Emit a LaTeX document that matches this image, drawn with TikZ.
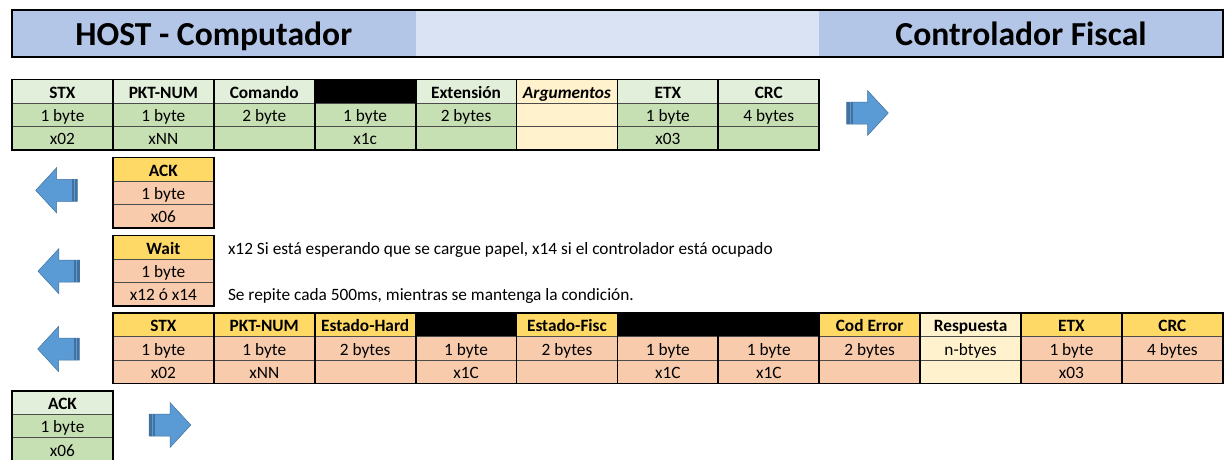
\documentclass[tikz,border=0pt]{standalone}
\usepackage{fontspec}
\setmainfont{Carlito}
\usetikzlibrary{positioning}

\definecolor{titledark}{HTML}{B4C6E7}
\definecolor{titlelight}{HTML}{DAE3F3}
\definecolor{hdrgreen}{HTML}{E2EFDA}
\definecolor{rowgreen}{HTML}{C6E0B4}
\definecolor{hdryellow}{HTML}{FFD966}
\definecolor{roworange}{HTML}{F8CBAD}
\definecolor{argcream}{HTML}{FFF2CC}
\definecolor{arrowblue}{HTML}{5B9BD5}
\definecolor{arrowedge}{HTML}{41719C}

\newcommand{\cellfont}{\fontsize{17.3}{19}\selectfont}

\begin{document}
\begin{tikzpicture}[
  x=1pt, y=-1pt,
  node distance=0pt,
  cell/.style={draw=black!70, line width=0.7pt, minimum width=100.9pt, minimum height=23.4pt,
               inner sep=0pt, outer sep=0pt, font=\cellfont, text height=16.6pt, text depth=3pt},
  hdrg/.style={cell, fill=hdrgreen, font=\cellfont\bfseries},
  rowg/.style={cell, fill=rowgreen},
  hdry/.style={cell, fill=hdryellow, font=\cellfont\bfseries},
  rowo/.style={cell, fill=roworange},
  cream/.style={cell, fill=argcream},
  blackcell/.style={cell, fill=black},
  colframe/.style={draw=black, line width=1.8pt},
  titlecell/.style={minimum width=403.6pt, minimum height=46.7pt, inner sep=0pt, outer sep=0pt,
                    font=\fontsize{33.6}{38}\selectfont\bfseries, text height=30pt, text depth=5pt},
  note/.style={inner sep=0pt, font=\cellfont, text height=16.6pt, text depth=3pt},
  bluearrow/.style={fill=arrowblue, draw=arrowedge, line width=0.5pt},
  bigarrow/.pic={
    \path[bluearrow] (-20.8,-11) -- (0,-11) -- (0,-22.5) -- (20.8,0) -- (0,22.5) -- (0,11)
      -- (-20.8,11) -- cycle;
    \fill[arrowedge] (-20.8,-11) rectangle (-15,11);
    \draw[arrowblue, line width=0.8pt] (-17.6,-11) -- (-17.6,11);
  }
]
\useasboundingbox (0,0) rectangle (1224,459);

% title bar
\node[titlecell, fill=titledark] (host) at (213.8,33.35) {HOST - Computador};
\node[titlecell, fill=titlelight, right=of host] (middle) {};
\node[titlecell, fill=titledark, right=of middle] (fiscal) {Controlador Fiscal};
\draw[colframe, line width=2pt] (host.north west) rectangle (fiscal.south east);

% command sent by the host
\node[hdrg] (c-stx) at (62.45,91.2) {STX};
\node[hdrg, right=of c-stx] (c-pkt) {PKT-NUM};
\node[hdrg, right=of c-pkt] (c-cmd) {Comando};
\node[blackcell, right=of c-cmd] (c-sep) {};
\node[hdrg, right=of c-sep] (c-ext) {Extensión};
\node[cream, font=\cellfont\bfseries\itshape, right=of c-ext] (c-arg) {Argumentos};
\node[hdrg, right=of c-arg] (c-etx) {ETX};
\node[hdrg, right=of c-etx] (c-crc) {CRC};

\node[rowg, below=of c-stx] (c-stx-b) {1 byte};
\node[rowg, below=of c-pkt] (c-pkt-b) {1 byte};
\node[rowg, below=of c-cmd] (c-cmd-b) {2 byte};
\node[rowg, below=of c-sep] (c-sep-b) {1 byte};
\node[rowg, below=of c-ext] (c-ext-b) {2 bytes};
\node[cream, below=of c-arg] (c-arg-b) {};
\node[rowg, below=of c-etx] (c-etx-b) {1 byte};
\node[rowg, below=of c-crc] (c-crc-b) {4 bytes};

\node[rowg, below=of c-stx-b] (c-stx-v) {x02};
\node[rowg, below=of c-pkt-b] (c-pkt-v) {xNN};
\node[rowg, below=of c-cmd-b] (c-cmd-v) {};
\node[rowg, below=of c-sep-b] (c-sep-v) {x1c};
\node[rowg, below=of c-ext-b] (c-ext-v) {};
\node[cream, below=of c-arg-b] (c-arg-v) {};
\node[rowg, below=of c-etx-b] (c-etx-v) {x03};
\node[rowg, below=of c-crc-b] (c-crc-v) {};

\draw[colframe] (c-stx.north west) rectangle (c-stx-v.south east)
  (c-pkt.north west) rectangle (c-pkt-v.south east)
  (c-cmd.north west) rectangle (c-cmd-v.south east)
  (c-sep.north west) rectangle (c-sep-v.south east)
  (c-ext.north west) rectangle (c-ext-v.south east)
  (c-arg.north west) rectangle (c-arg-v.south east)
  (c-etx.north west) rectangle (c-etx-v.south east)
  (c-crc.north west) rectangle (c-crc-v.south east);

% ACK from the controller
\node[hdry] (a-ack) at (163.35,169.2) {ACK};
\node[rowo, below=of a-ack] (a-ack-b) {1 byte};
\node[rowo, below=of a-ack-b] (a-ack-v) {x06};
\draw[colframe] (a-ack.north west) rectangle (a-ack-v.south east);

% Wait from the controller
\node[hdry] (w-wait) at (163.35,247.2) {Wait};
\node[rowo, below=of w-wait] (w-wait-b) {1 byte};
\node[rowo, below=of w-wait-b] (w-wait-v) {x12 ó x14};
\draw[colframe] (w-wait.north west) rectangle (w-wait-v.south east);
\node[note, right=14pt of w-wait] (waitwhy) {x12 Si está esperando que se cargue papel, x14 si el controlador está ocupado};
\node[note, right=14pt of w-wait-v] (waitrep) {Se repite cada 500ms, mientras se mantenga la condición.};

% answer from the controller
\node[hdry] (r-stx) at (163.35,325.0) {STX};
\node[hdry, right=of r-stx] (r-pkt) {PKT-NUM};
\node[hdry, right=of r-pkt] (r-hard) {Estado-Hard};
\node[blackcell, right=of r-hard] (r-sep1) {};
\node[hdry, right=of r-sep1] (r-fisc) {Estado-Fisc};
\node[blackcell, right=of r-fisc] (r-sep2) {};
\node[blackcell, right=of r-sep2] (r-sep3) {};
\node[hdry, right=of r-sep3] (r-err) {Cod Error};
\node[cream, font=\cellfont\bfseries, right=of r-err] (r-resp) {Respuesta};
\node[hdry, right=of r-resp] (r-etx) {ETX};
\node[hdry, right=of r-etx] (r-crc) {CRC};

\node[rowo, below=of r-stx] (r-stx-b) {1 byte};
\node[rowo, below=of r-pkt] (r-pkt-b) {1 byte};
\node[rowo, below=of r-hard] (r-hard-b) {2 bytes};
\node[rowo, below=of r-sep1] (r-sep1-b) {1 byte};
\node[rowo, below=of r-fisc] (r-fisc-b) {2 bytes};
\node[rowo, below=of r-sep2] (r-sep2-b) {1 byte};
\node[rowo, below=of r-sep3] (r-sep3-b) {1 byte};
\node[rowo, below=of r-err] (r-err-b) {2 bytes};
\node[cream, below=of r-resp] (r-resp-b) {n-btyes};
\node[rowo, below=of r-etx] (r-etx-b) {1 byte};
\node[rowo, below=of r-crc] (r-crc-b) {4 bytes};

\node[rowo, below=of r-stx-b] (r-stx-v) {x02};
\node[rowo, below=of r-pkt-b] (r-pkt-v) {xNN};
\node[rowo, below=of r-hard-b] (r-hard-v) {};
\node[rowo, below=of r-sep1-b] (r-sep1-v) {x1C};
\node[rowo, below=of r-fisc-b] (r-fisc-v) {};
\node[rowo, below=of r-sep2-b] (r-sep2-v) {x1C};
\node[rowo, below=of r-sep3-b] (r-sep3-v) {x1C};
\node[rowo, below=of r-err-b] (r-err-v) {};
\node[cream, below=of r-resp-b] (r-resp-v) {};
\node[rowo, below=of r-etx-b] (r-etx-v) {x03};
\node[rowo, below=of r-crc-b] (r-crc-v) {};

\draw[colframe] (r-stx.north west) rectangle (r-stx-v.south east)
  (r-pkt.north west) rectangle (r-pkt-v.south east)
  (r-hard.north west) rectangle (r-hard-v.south east)
  (r-sep1.north west) rectangle (r-sep1-v.south east)
  (r-fisc.north west) rectangle (r-fisc-v.south east)
  (r-sep2.north west) rectangle (r-sep2-v.south east)
  (r-sep3.north west) rectangle (r-sep3-v.south east)
  (r-err.north west) rectangle (r-err-v.south east)
  (r-resp.north west) rectangle (r-resp-v.south east)
  (r-etx.north west) rectangle (r-etx-v.south east)
  (r-crc.north west) rectangle (r-crc-v.south east);

% final ACK from the host
\node[hdrg] (k-ack) at (62.45,402.4) {ACK};
\node[rowg, below=of k-ack] (k-ack-b) {1 byte};
\node[rowg, below=of k-ack-b] (k-ack-v) {x06};
\draw[colframe] (k-ack.north west) rectangle (k-ack-v.south east);

% direction arrows
\pic (sendcmd) at (867.5,113) {bigarrow};
\pic[rotate=180] (backack) at (56.5,190.3) {bigarrow};
\pic[rotate=180] (backwait) at (58.8,271.2) {bigarrow};
\pic[rotate=180] (backresp) at (58.5,349) {bigarrow};
\pic (sendack) at (170,425) {bigarrow};
\end{tikzpicture}
\end{document}
